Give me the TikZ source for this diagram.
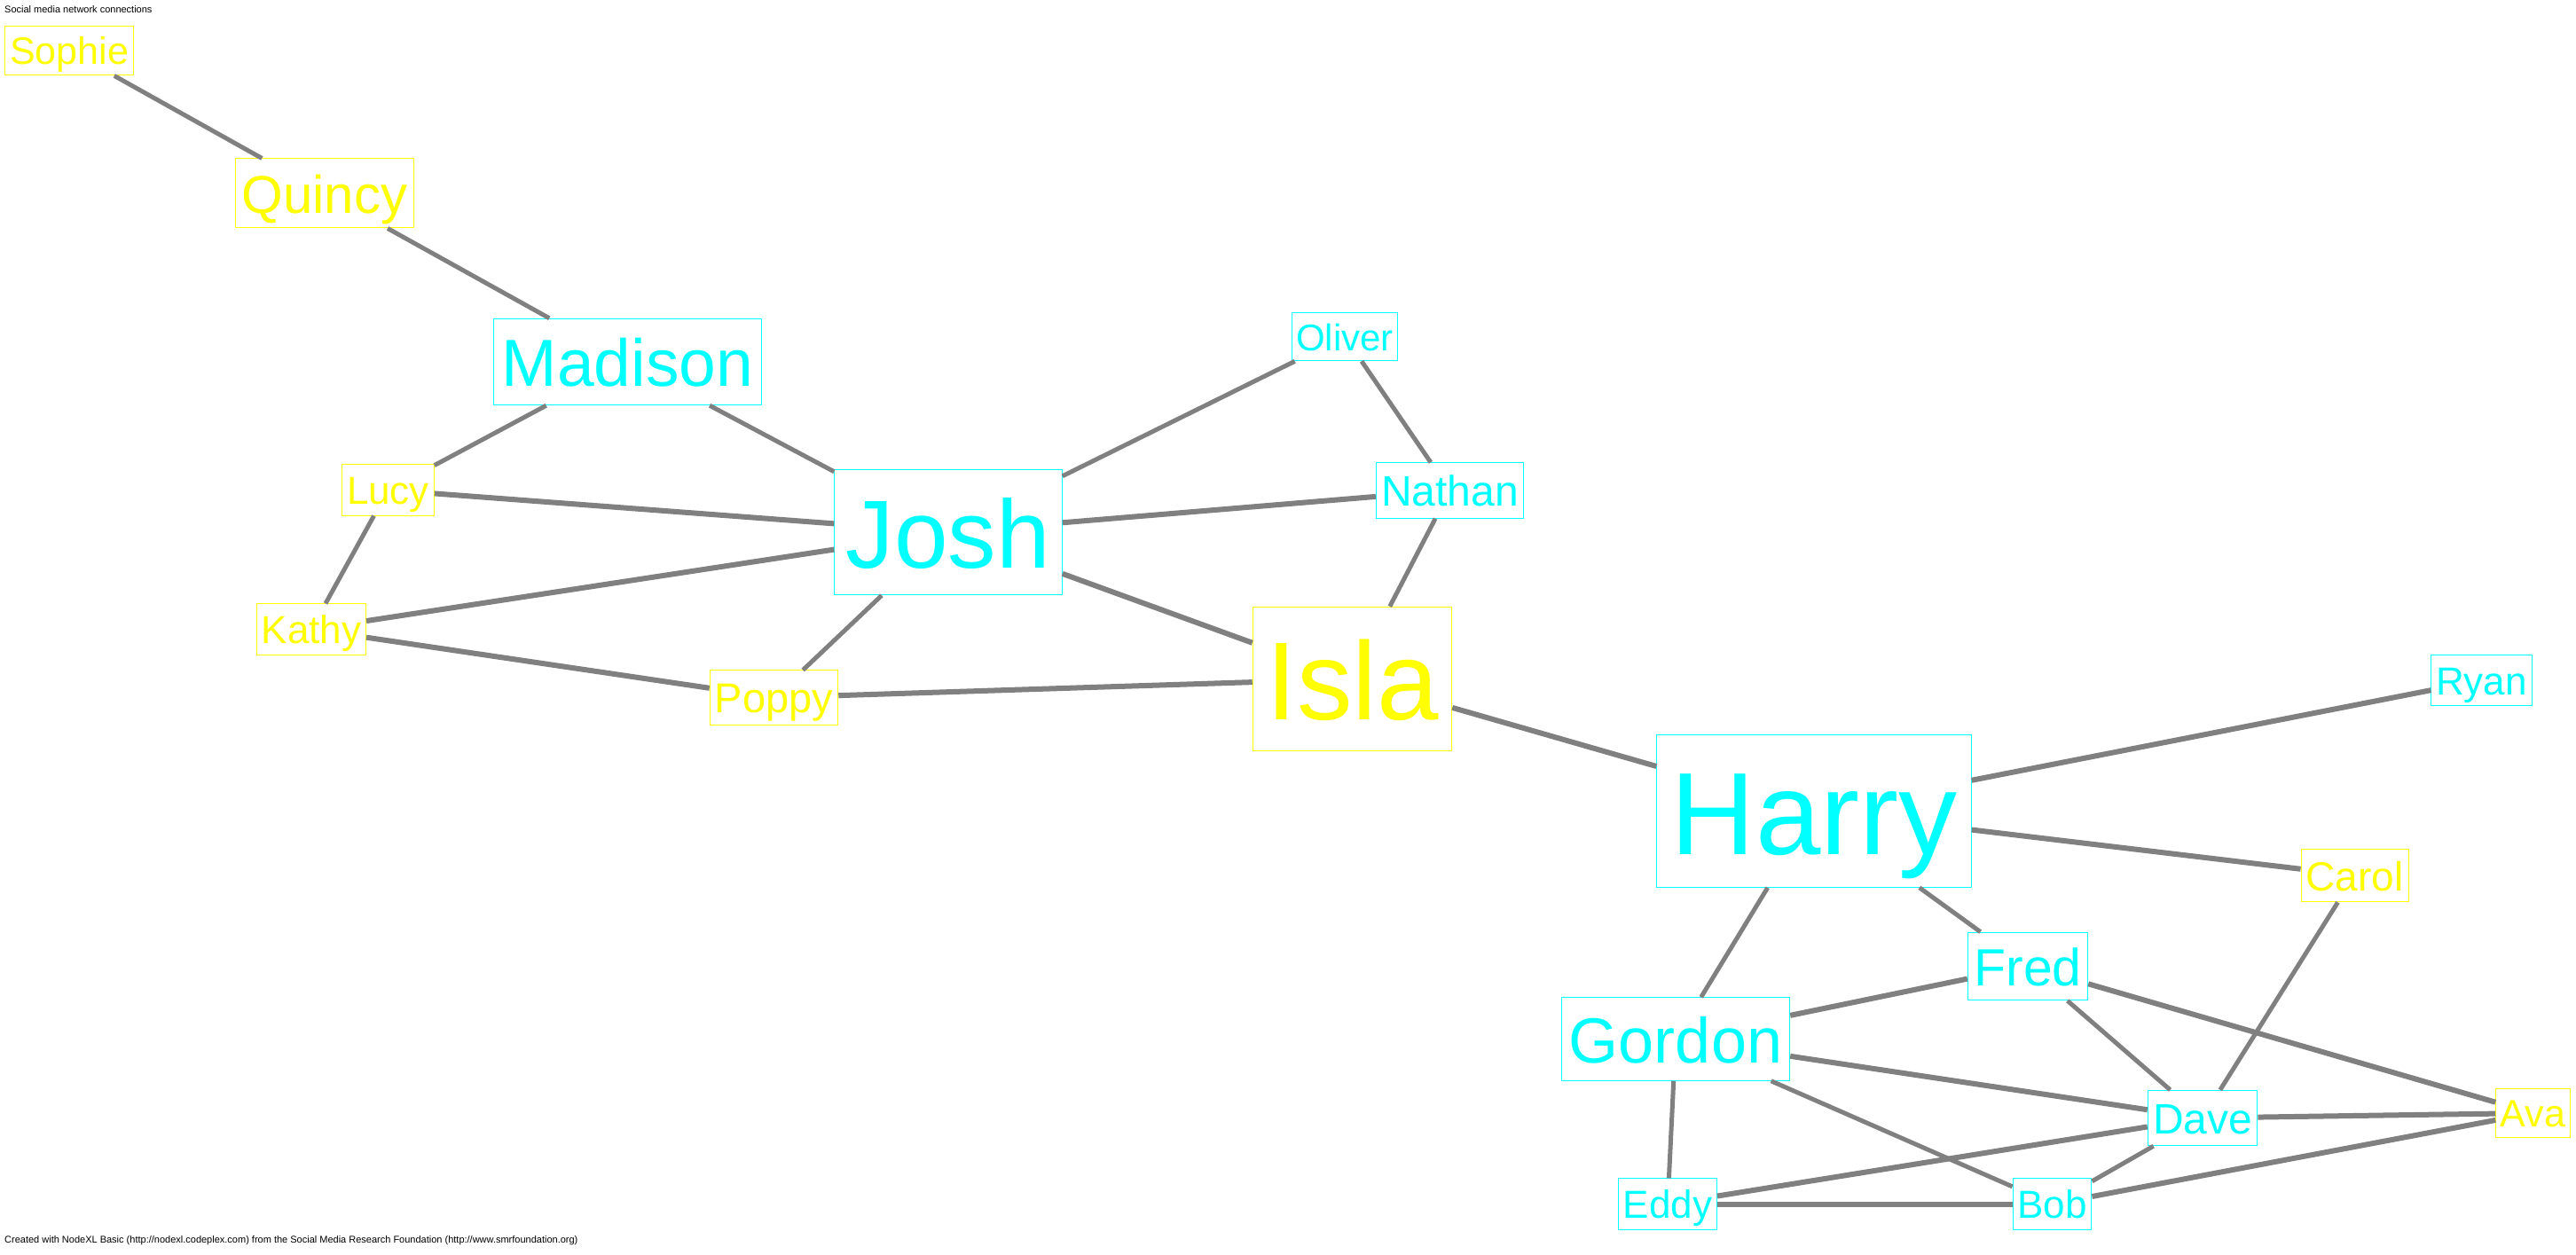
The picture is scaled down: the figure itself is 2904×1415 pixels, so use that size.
\documentclass[tikz,border=0pt]{standalone}
\usepackage{fontspec}
\setmainfont{Liberation Sans}
\definecolor{cyanname}{RGB}{0,255,255}
\definecolor{yellowname}{RGB}{255,255,0}
\definecolor{tiegray}{RGB}{128,128,128}
\tikzset{
  person/.style={draw=#1, text=#1, line width=1pt, fill=white},
  sz/.style={font=\fontsize{#1}{#1}\selectfont, inner xsep={0.12*#1pt}, inner ysep={0.15*#1pt},
    text height={0.87*#1pt}, text depth={0.13*#1pt}},
  tie/.style={draw=tiegray, line width=5pt},
  strongtie/.style={draw=tiegray, line width=6pt},
  caption/.style={anchor=base west, inner sep=0pt, font=\fontsize{11}{11}\selectfont}
}
\begin{document}
\begin{tikzpicture}[x=1pt,y=-1pt]
  \useasboundingbox[fill=white] (0,0) rectangle (2904,1415);
  \node[caption] (title) at (5,15) {Social media network connections};
  \node[caption] (credit) at (5,1401) {Created with NodeXL Basic (http://nodexl.codeplex.com) from the Social Media Research Foundation (http://www.smrfoundation.org)};

  \node[person=yellowname, sz=43] (sophie) at (78,57) {Sophie};
  \node[person=yellowname, sz=60] (quincy) at (366,218) {Quincy};
  \node[person=cyanname, sz=75] (madison) at (707.5,408) {Madison};
  \node[person=yellowname, sz=44] (lucy) at (437.5,552.5) {Lucy};
  \node[person=yellowname, sz=44] (kathy) at (351,709.5) {Kathy};
  \node[person=yellowname, sz=47] (poppy) at (872.5,786.5) {Poppy};
  \node[person=cyanname, sz=109] (josh) at (1069,600) {Josh};
  \node[person=cyanname, sz=42] (oliver) at (1516,379.5) {Oliver};
  \node[person=cyanname, sz=48] (nathan) at (1634.5,553) {Nathan};
  \node[person=yellowname, sz=125] (isla) at (1524.5,765.5) {Isla};
  \node[person=cyanname, sz=132] (harry) at (2045,914.5) {Harry};
  \node[person=cyanname, sz=44] (ryan) at (2797.5,767) {Ryan};
  \node[person=yellowname, sz=46] (carol) at (2654.5,987) {Carol};
  \node[person=cyanname, sz=59] (fred) at (2286,1089.5) {Fred};
  \node[person=cyanname, sz=72] (gordon) at (1889,1171.5) {Gordon};
  \node[person=cyanname, sz=48] (dave) at (2483,1260.5) {Dave};
  \node[person=yellowname, sz=43] (ava) at (2855.5,1255) {Ava};
  \node[person=cyanname, sz=44] (eddy) at (1880,1357.5) {Eddy};
  \node[person=cyanname, sz=44] (bob) at (2313.5,1357.5) {Bob};

  \foreach \a/\b in {sophie/quincy, quincy/madison, madison/lucy, madison/josh, lucy/kathy,
      josh/poppy, josh/oliver, oliver/nathan, nathan/isla, harry/gordon, harry/fred,
      fred/dave, carol/dave, gordon/eddy, gordon/bob, bob/dave}
    \draw[tie] (\a) -- (\b);
  \foreach \a/\b in {lucy/josh, kathy/josh, kathy/poppy, poppy/isla, josh/nathan, josh/isla,
      isla/harry, harry/ryan, harry/carol, gordon/fred, gordon/dave, fred/ava, dave/ava,
      eddy/dave, eddy/bob, bob/ava}
    \draw[strongtie] (\a) -- (\b);
\end{tikzpicture}
\end{document}
